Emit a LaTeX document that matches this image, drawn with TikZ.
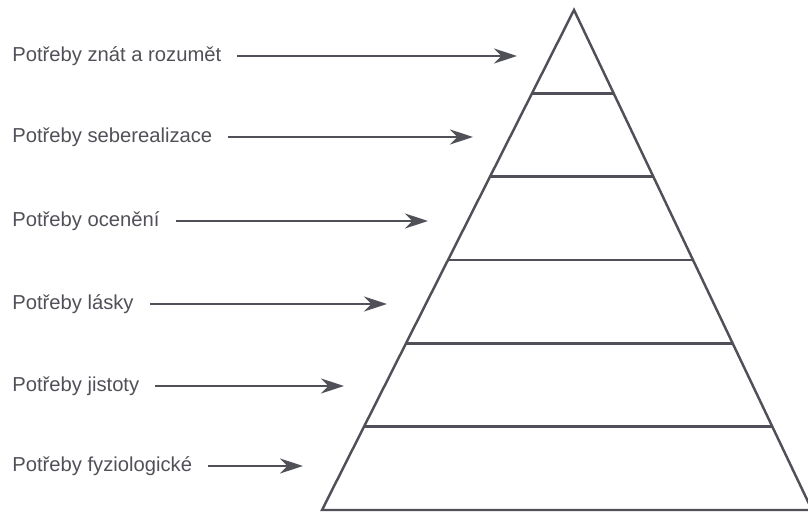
\documentclass[tikz,border=0pt]{standalone}
\usepackage{fontspec}
\setmainfont{Liberation Sans}
\usetikzlibrary{arrows.meta,calc,positioning}
\definecolor{ink}{HTML}{505058}

\begin{document}
\begin{tikzpicture}
[x=0.02cm,y=-0.02cm,
need/.style={anchor=west,inner sep=0pt,text=ink,font=\fontsize{11.5}{13}\selectfont},
pointer/.style={ink,line width=1.3pt,shorten <=9pt,-{Stealth[length=4.6mm,width=3mm]}},
level/.style={ink,line width=1.4pt}]
\useasboundingbox (0,0) rectangle (808,513);
%%
%%%%%%%%%%%%%%%%%%
% Pyramid
%%%%%%%%%%%%%%%%%%
\coordinate (apex) at (574,10);
\coordinate (bl) at (322,510);
\coordinate (br) at (812,510);
\draw[level,line join=miter] (apex) -- (bl) -- (br) -- cycle;
\foreach \i in {1,...,5}
  \draw[level] ($(apex)!\i/6!(bl)$) -- ($(apex)!\i/6!(br)$);
%%
%%%%%%%%%%%%%%%%%%
% Needs
%%%%%%%%%%%%%%%%%%
\node[need] (t1) at (12,56) {Potřeby znát a rozumět};
\node[need] (t2) at (12,137) {Potřeby seberealizace};
\node[need] (t3) at (12,221) {Potřeby ocenění};
\node[need] (t4) at (12,304) {Potřeby lásky};
\node[need] (t5) at (12,386) {Potřeby jistoty};
\node[need] (t6) at (12,466) {Potřeby fyziologické};
%%
\coordinate (a1) at (517,56);
\coordinate (a2) at (473,137);
\coordinate (a3) at (428,221);
\coordinate (a4) at (387,304);
\coordinate (a5) at (344,386);
\coordinate (a6) at (303,466);
%%
\foreach \i in {1,...,6}
  \draw[pointer] (t\i) -- (a\i);
\end{tikzpicture}
\end{document}
